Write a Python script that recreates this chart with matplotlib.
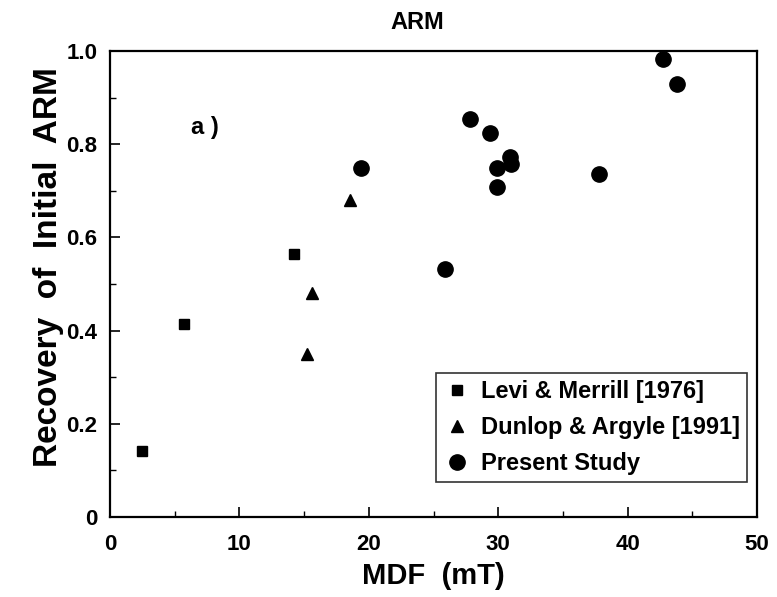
import matplotlib
matplotlib.use("Agg")
import matplotlib.pyplot as plt
from matplotlib.ticker import MultipleLocator

plt.rcParams['font.family'] = ['Liberation Sans', 'DejaVu Sans']

# Levi & Merrill [1976]
levi_x = [2.45, 5.7, 14.2]
levi_y = [0.142, 0.414, 0.564]
# Dunlop & Argyle [1991]
dunlop_x = [15.25, 15.6, 18.55]
dunlop_y = [0.35, 0.48, 0.68]
# Present Study
present_x = [19.4, 25.9, 27.8, 29.4, 29.9, 29.9, 30.9, 31.0, 37.8, 42.7, 43.8]
present_y = [0.748, 0.533, 0.853, 0.823, 0.748, 0.708, 0.772, 0.758, 0.735, 0.982, 0.930]

xticks = [0, 10, 20, 30, 40, 50]
yticks = [0, 0.2, 0.4, 0.6, 0.8, 1.0]
yticklabels = ['0', '0.2', '0.4', '0.6', '0.8', '1.0']

fig = plt.figure(figsize=(7.77, 5.97), dpi=100)
ax = fig.add_axes([0.1416, 0.134, 0.8327, 0.7806])

ax.plot(levi_x, levi_y, 's', color='black', markersize=7, label='Levi & Merrill [1976]')
ax.plot(dunlop_x, dunlop_y, '^', color='black', markersize=8, label='Dunlop & Argyle [1991]')
ax.plot(present_x, present_y, 'o', color='black', markersize=11, label='Present Study')

ax.set_xlim(0, 50)
ax.set_ylim(0, 1.0)
ax.set_xticks(xticks)
ax.set_yticks(yticks)
ax.set_yticklabels(yticklabels)
ax.xaxis.set_minor_locator(MultipleLocator(5))
ax.yaxis.set_minor_locator(MultipleLocator(0.1))
ax.tick_params(which='both', direction='in', top=False, right=False)
ax.tick_params(which='major', length=7, width=1.2, labelsize=16)
ax.tick_params(axis='x', which='major', pad=12)
ax.tick_params(axis='y', which='major', pad=9)
ax.tick_params(which='minor', length=4, width=1)
for lbl in ax.get_xticklabels() + ax.get_yticklabels():
    lbl.set_fontweight('bold')
for s in ax.spines.values():
    s.set_linewidth(1.6)

ax.set_xlabel('MDF  (mT)', fontsize=21, fontweight='bold', labelpad=5)
ax.set_ylabel('Recovery  of  Initial  ARM', fontsize=24, fontweight='bold')
ax.yaxis.set_label_coords(-0.071, 0.536)
ax.text(0.4745, 1.062, 'ARM', transform=ax.transAxes, fontsize=17,
        fontweight='bold', ha='center', va='center')
ax.text(7.3, 0.835, 'a )', fontsize=17, fontweight='bold', ha='center', va='center')

leg = ax.legend(loc='lower right', frameon=True, fancybox=False,
                edgecolor='black', handlelength=1.2, handletextpad=0.4,
                borderpad=0.3, labelspacing=0.55, borderaxespad=0,
                bbox_to_anchor=(0.9845, 0.075), prop={'weight': 'bold', 'size': 17})
leg.get_frame().set_linewidth(1.2)

fig.savefig('out.png', dpi=100)
